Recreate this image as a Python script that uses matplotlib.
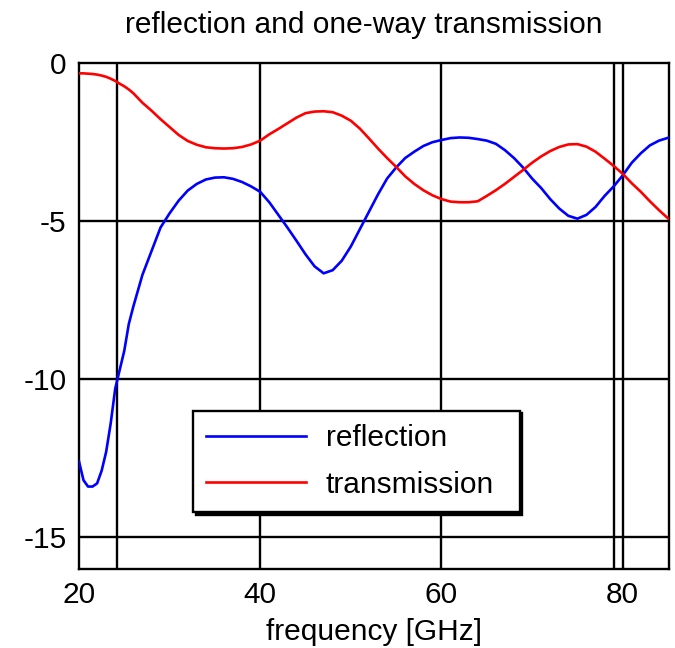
import matplotlib
matplotlib.use("Agg")
import matplotlib.pyplot as plt

# frequency [GHz]
freq = [20, 20.5, 21, 21.5, 22, 22.5, 23, 23.5, 24, 24.5, 25, 25.5, 26,
        27, 28, 29, 30, 31, 32, 33, 34, 35, 36, 37, 38, 39, 40, 41, 42, 43,
        44, 45, 46, 47, 48, 49, 50, 51, 52, 53, 54, 55, 56, 57, 58, 59, 60,
        61, 62, 63, 64, 65, 66, 67, 68, 69, 70, 71, 72, 73, 74, 75, 76, 77,
        78, 79, 80, 81, 82, 83, 84, 85]

reflection = [-12.6, -13.2, -13.4, -13.4, -13.3, -12.9, -12.3, -11.4, -10.3,
              -9.7, -9.1, -8.25, -7.7,
              -6.7, -5.95, -5.2, -4.75, -4.35, -4.03, -3.82, -3.68, -3.62,
              -3.61, -3.66, -3.76, -3.90, -4.07, -4.4, -4.8, -5.2, -5.62,
              -6.05, -6.43, -6.65, -6.55, -6.25, -5.8, -5.25, -4.7, -4.15,
              -3.65, -3.3, -3.0, -2.8, -2.62, -2.5, -2.43, -2.37, -2.35,
              -2.36, -2.4, -2.45, -2.55, -2.75, -3.0, -3.3, -3.65, -3.95,
              -4.3, -4.6, -4.83, -4.92, -4.8, -4.55, -4.2, -3.9, -3.55,
              -3.15, -2.85, -2.6, -2.45, -2.36]

transmission = [-0.32, -0.32, -0.33, -0.34, -0.36, -0.39, -0.43, -0.49, -0.56,
                -0.65, -0.73, -0.83, -0.95,
                -1.25, -1.5, -1.77, -2.02, -2.27, -2.46, -2.58, -2.66, -2.69,
                -2.70, -2.69, -2.65, -2.57, -2.45, -2.25, -2.08, -1.9, -1.72,
                -1.58, -1.53, -1.52, -1.55, -1.66, -1.82, -2.07, -2.38, -2.70,
                -3.0, -3.28, -3.58, -3.82, -4.02, -4.18, -4.3, -4.38, -4.4,
                -4.4, -4.37, -4.2, -4.02, -3.82, -3.6, -3.38, -3.15, -2.95,
                -2.78, -2.65, -2.57, -2.56, -2.64, -2.8, -3.02, -3.25, -3.5,
                -3.8, -4.07, -4.37, -4.65, -4.91]

xticks = [20, 40, 60, 80]
yticks = [0, -5, -10, -15]
vgrid = [24.2, 40, 60, 79.0, 80]   # vertical grid lines as in the original
hgrid = [-5, -10, -15]

plt.rcParams['font.family'] = ['Liberation Sans', 'DejaVu Sans']
plt.rcParams['axes.unicode_minus'] = False
fs = 21.5

fig = plt.figure(figsize=(6.75, 6.48), dpi=100)
ax = fig.add_axes([0.117, 0.1224, 0.874, 0.78])

for xv in vgrid:
    ax.axvline(xv, color='black', lw=1.7, zorder=1)
for yv in hgrid:
    ax.axhline(yv, color='black', lw=1.7, zorder=1)

ax.plot(freq, reflection, color='#0000ff', lw=1.9, label='reflection', zorder=3)
ax.plot(freq, transmission, color='#ff0000', lw=1.9, label='transmission', zorder=3)

ax.set_xlim(20, 85.1)
ax.set_ylim(-16, 0)
ax.set_xticks(xticks)
ax.set_yticks(yticks)
ax.tick_params(length=0, labelsize=fs, pad=9)
for s in ax.spines.values():
    s.set_linewidth(1.7)

ax.set_title('reflection and one-way transmission', fontsize=fs, pad=22, x=0.482)
ax.set_xlabel('frequency [GHz]', fontsize=fs, labelpad=6)

# legend box with a hard black shadow
leg = ax.legend(loc='lower left', bbox_to_anchor=(0.193, 0.112, 0.554, 0.204),
                mode='expand', fontsize=fs, fancybox=False, shadow={'color': 'black', 'alpha': 1},
                framealpha=1, edgecolor='black', handlelength=3.35, handletextpad=0.65,
                labelspacing=0.62, borderpad=0.45, borderaxespad=0)
leg.get_frame().set_linewidth(1.7)
leg.set_zorder(5)

fig.savefig('out.png', dpi=100)
